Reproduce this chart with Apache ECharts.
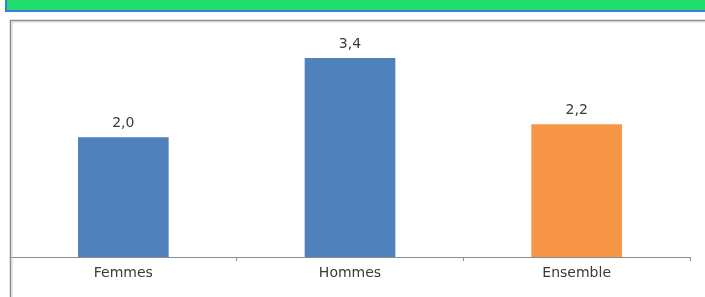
<!DOCTYPE html>
<html>
<head>
<meta charset="utf-8">
<script src="https://cdn.jsdelivr.net/npm/echarts@6/dist/echarts.min.js"></script>
<style>
html, body { margin: 0; padding: 0; background: #fff; }
#main { width: 705px; height: 297px; }
</style>
</head>
<body>
<div id="main"></div>
<script>
var categories = ['Femmes', 'Hommes', 'Ensemble'];
var values = [2.02, 3.36, 2.24];
var barColors = ['#4F81BD', '#4F81BD', '#F79646'];

var chart = echarts.init(document.getElementById('main'));

var option = {
	animation: false,
	grid: { left: 10, right: 15, top: 20, bottom: 40 },
	graphic: [
		// bandeau vert du haut (titre coupé)
		{ type: 'rect', shape: { x: 6, y: -4, width: 710, height: 15 },
		  style: { fill: '#22DD6E', stroke: '#3B7BE0', lineWidth: 2 }, z: 10 },
		// cadre du graphique
		{ type: 'rect', shape: { x: 10.5, y: 20.5, width: 720, height: 300 },
		  style: { fill: 'none', stroke: '#8C8C8C', lineWidth: 1.5 }, z: 10 },
		{ type: 'rect', shape: { x: 12, y: 22, width: 720, height: 300 },
		  style: { fill: 'none', stroke: '#D0D0D0', lineWidth: 1 }, z: 10 }
	],
	xAxis: {
		type: 'category',
		data: categories,
		axisLine: { lineStyle: { color: '#8C8C8C', width: 1 } },
		axisTick: { show: true, length: 4, lineStyle: { color: '#8C8C8C' } },
		axisLabel: { color: '#3A3A3A', fontFamily: 'DejaVu Sans', fontSize: 14, margin: 9 }
	},
	yAxis: {
		type: 'value',
		min: 0,
		max: 4,
		show: false,
		splitLine: { show: false }
	},
	series: [{
		type: 'bar',
		barWidth: '40%',
		data: values.map(function (v, i) {
			return { value: v, itemStyle: { color: barColors[i] } };
		}),
		label: {
			show: true,
			position: 'top',
			distance: 7,
			color: '#3A3A3A',
			fontFamily: 'DejaVu Sans',
			fontSize: 14,
			formatter: function (p) { return p.value.toFixed(1).replace('.', ','); }
		}
	}]
};

chart.setOption(option);
</script>
</body>
</html>
